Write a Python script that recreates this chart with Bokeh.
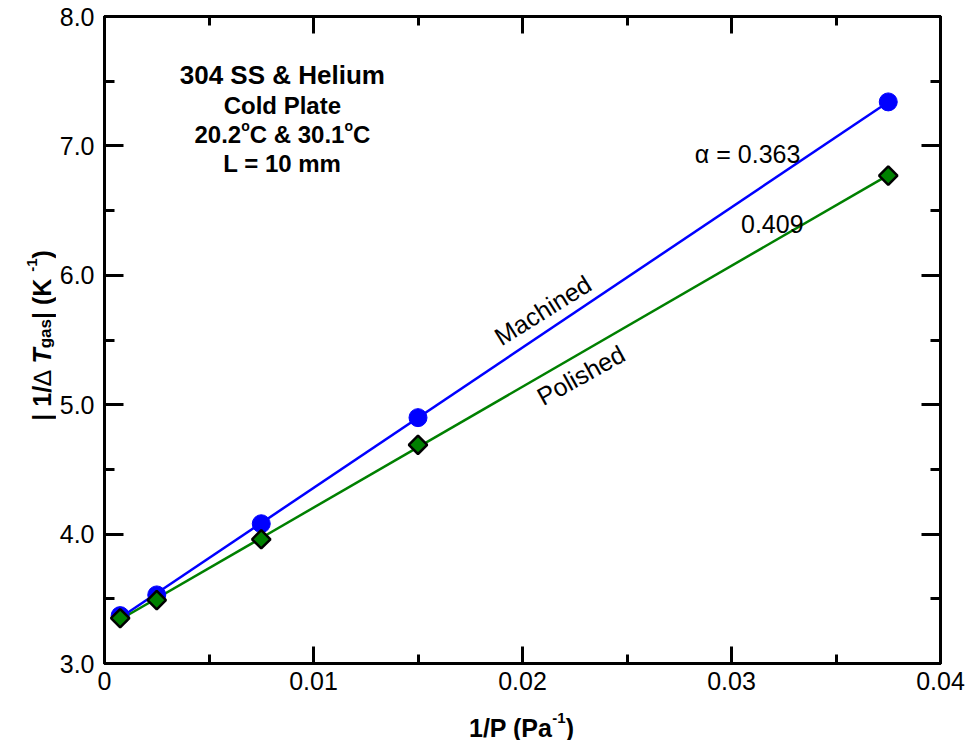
import math
import numpy as np
from bokeh.plotting import figure
from bokeh.layouts import row, column
from bokeh.models import (Label, LinearAxis, SingleIntervalTicker, NumeralTickFormatter,
                          CustomJSTickFormatter, Range1d)
from bokeh.embed import file_html
from bokeh.resources import INLINE

# ---------------- data ----------------
inv_p = [0.00075, 0.0025, 0.0075, 0.015, 0.0375]          # 1/P (Pa^-1)
machined = [3.37, 3.53, 4.08, 4.90, 7.34]                  # |1/dT_gas| (K^-1)
polished = [3.35, 3.49, 3.96, 4.69, 6.77]
alpha_machined = "0.363"
alpha_polished = "0.409"

FONT = "Liberation Sans"
BLUE = "#0000FF"
GREEN = "#008000"

TITLE_W = 56      # width of the strip that holds the y-axis title
XT_H = 40         # height of the strip that holds the x-axis title
MAIN_W = 972 - TITLE_W
MAIN_H = 740 - XT_H

p = figure(width=MAIN_W, height=MAIN_H, x_range=(0, 0.04), y_range=(3, 8),
           output_backend="svg", toolbar_location=None,
           min_border_left=104 - TITLE_W, min_border_right=32,
           min_border_top=16, min_border_bottom=MAIN_H - 663)
p.background_fill_color = "white"
p.border_fill_color = "white"
p.grid.visible = False
p.outline_line_color = "black"
p.outline_line_width = 3


def style_axis(ax, ticker, show_labels, formatter=None, tin=18, tmin=9):
    ax.ticker = ticker
    ax.axis_line_width = 3
    ax.axis_line_color = "black"
    ax.major_tick_in = tin
    ax.major_tick_out = 0
    ax.minor_tick_in = tmin
    ax.minor_tick_out = 0
    ax.major_tick_line_width = 3
    ax.minor_tick_line_width = 3
    ax.major_tick_line_color = "black"
    ax.minor_tick_line_color = "black"
    if show_labels:
        ax.formatter = formatter
        ax.major_label_text_font = FONT
        ax.major_label_text_font_size = "25px"
        ax.major_label_text_color = "black"
    else:
        ax.formatter = CustomJSTickFormatter(code="return ''")
        ax.major_label_text_font_size = "1px"
        ax.major_label_standoff = 0
    ax.axis_label = None


style_axis(p.xaxis[0], SingleIntervalTicker(interval=0.01, num_minor_ticks=2), True,
           NumeralTickFormatter(format="0.[00]"), tin=17, tmin=9)
p.xaxis[0].major_label_standoff = 8
style_axis(p.yaxis[0], SingleIntervalTicker(interval=1.0, num_minor_ticks=2), True,
           NumeralTickFormatter(format="0.0"), tin=19, tmin=10)
p.yaxis[0].major_label_standoff = 10

top = LinearAxis()
style_axis(top, SingleIntervalTicker(interval=0.01, num_minor_ticks=2), False, tin=17, tmin=9)
p.add_layout(top, "above")
right = LinearAxis()
style_axis(right, SingleIntervalTicker(interval=1.0, num_minor_ticks=2), False, tin=19, tmin=10)
p.add_layout(right, "right")

# ---------------- fit lines & markers ----------------
xs = np.array(inv_p)
for ys, col in ((machined, BLUE), (polished, GREEN)):
    k, b = np.polyfit(xs, np.array(ys), 1)
    xl = np.array([xs.min(), xs.max()])
    p.line(xl, k * xl + b, line_color=col, line_width=2.5)

p.scatter(inv_p, machined, marker="circle", size=18, fill_color=BLUE, line_color=BLUE)
p.scatter(inv_p, polished, marker="square", angle=math.pi / 4, size=13,
          fill_color=GREEN, line_color="black", line_width=2.5)

# ---------------- text helpers ----------------
W_REG = {' ': 278, '(': 333, ')': 333, '-': 333, '.': 278, '/': 278, '=': 584, '&': 667,
         'C': 722, 'K': 667, 'P': 667, 'a': 556, 'e': 556, 'g': 556, 's': 500, 'o': 556,
         'α': 578, 'Δ': 668, '∆': 612, '|': 260}
W_BOLD = {' ': 278, '(': 333, ')': 333, '-': 333, '.': 278, '/': 278, '=': 584, '&': 722,
          'C': 722, 'H': 722, 'K': 722, 'L': 611, 'P': 667, 'S': 667, 'T': 611, 'a': 556,
          'd': 611, 'e': 556, 'g': 611, 'i': 278, 'l': 278, 'm': 889, 'o': 611, 's': 556,
          't': 333, 'u': 611, '|': 280, 'Δ': 668}


def tw(text, size, style):
    tab = W_BOLD if "bold" in style else W_REG
    return sum(tab.get(c, 556 if c.isdigit() else 600) for c in text) * size / 1000.0


def rich(fig, x, y, runs, vertical=False, align="center"):
    """runs: list of (text, size_px, style, rise_px)"""
    total = sum(tw(t, s, st) for t, s, st, r in runs)
    d = -total / 2 if align == "center" else 0.0
    for t, s, st, r in runs:
        if vertical:
            xo, yo, ang = -r, d, math.pi / 2
        else:
            xo, yo, ang = d, r, 0.0
        fig.add_layout(Label(x=x, y=y, x_offset=xo, y_offset=yo, text=t, angle=ang,
                             text_font=FONT, text_font_size=f"{s}px", text_font_style=st,
                             text_align="left", text_baseline="alphabetic", text_color="black"))
        d += tw(t, s, st)


def plain(fig, x, y, text, size=25, style="normal", angle_deg=0.0, align="center",
          baseline="alphabetic"):
    fig.add_layout(Label(x=x, y=y, text=text, angle=math.radians(angle_deg),
                         text_font=FONT, text_font_size=f"{size}px", text_font_style=style,
                         text_align=align, text_baseline=baseline, text_color="black"))


# ---------------- annotations in the plot ----------------
bx = 0.00851
plain(p, bx, 7.548, "304 SS & Helium", size=26, style="bold")
plain(p, bx, 7.316, "Cold Plate", size=24, style="bold")
rich(p, bx, 7.089, [("20.2", 24, "bold", 0), ("o", 14, "bold", 8), ("C & 30.1", 24, "bold", 0),
                    ("o", 14, "bold", 8), ("C", 24, "bold", 0)])
plain(p, bx, 6.865, "L = 10 mm", size=24, style="bold")

plain(p, 0.03077, 6.937, "α = " + alpha_machined, size=25)
plain(p, 0.03195, 6.396, alpha_polished, size=25)
plain(p, 0.02097, 5.731, "Machined", size=25, angle_deg=32, baseline="middle")
plain(p, 0.02279, 5.228, "Polished", size=25, angle_deg=29, baseline="middle")


# ---------------- axis-title strips (pixel coordinates) ----------------
def strip(w, h, xr, yr):
    f = figure(width=w, height=h, x_range=Range1d(*xr), y_range=Range1d(*yr),
               output_backend="svg", toolbar_location=None,
               x_axis_type=None, y_axis_type=None,
               min_border=0, min_border_left=0, min_border_right=0,
               min_border_top=0, min_border_bottom=0)
    f.grid.visible = False
    f.outline_line_color = None
    f.background_fill_color = "white"
    f.border_fill_color = "white"
    return f


ytf = strip(TITLE_W, MAIN_H, (0, TITLE_W), (MAIN_H, 0))
rich(ytf, 41.7, 345, [("| 1/", 25, "bold", 0), ("∆ ", 25, "normal", 0), ("T", 25, "bold italic", 0),
                      ("gas", 17, "bold", -3), (" | (K", 25, "bold", 0), ("-1", 15, "bold", 10),
                      (")", 25, "bold", 0)], vertical=True)

xtf = strip(972, XT_H, (0, 972), (740, MAIN_H))
rich(xtf, 521, 727, [("1/P (Pa", 25, "bold", 0), ("-1", 15, "bold", 10), (")", 25, "bold", 0)])

layout = column(row(ytf, p, spacing=0), xtf, spacing=0)

open("out.html", "w").write(file_html(layout, INLINE))
